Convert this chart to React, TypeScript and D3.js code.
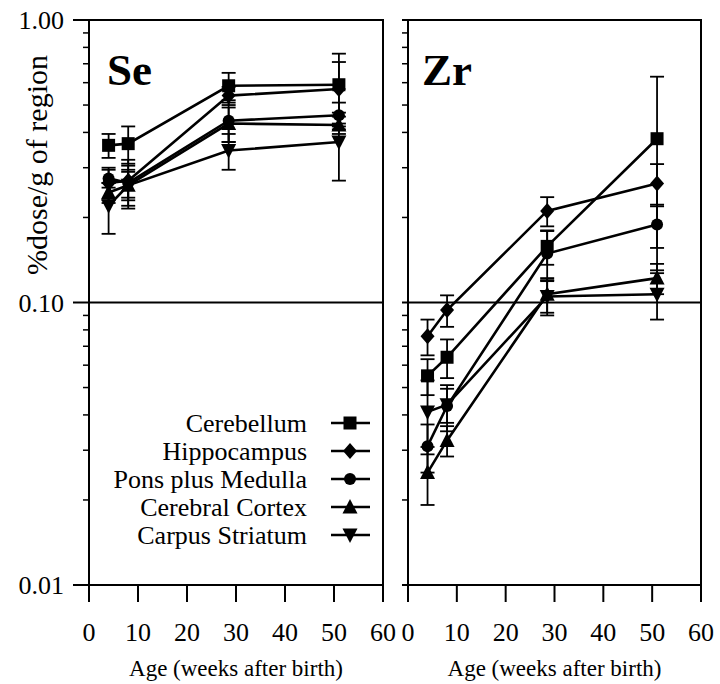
import React from "react";
import * as d3 from "d3";

const weeks = [4, 8, 28.5, 51];

const seriesNames = ["Cerebellum", "Hippocampus", "Pons plus Medulla", "Cerebral Cortex", "Carpus Striatum"];
const seriesSymbols = ["square", "diamond", "circle", "triangleUp", "triangleDown"];

// Se panel values and SE
const seCerebellum = [0.36, 0.365, 0.585, 0.59];
const seHippocampus = [0.265, 0.27, 0.54, 0.57];
const sePons = [0.275, 0.265, 0.44, 0.46];
const seCortex = [0.245, 0.26, 0.43, 0.425];
const seStriatum = [0.22, 0.26, 0.345, 0.37];
const seCerebellumErr = [0.035, 0.055, 0.065, 0.17];
const seHippocampusErr = [0.035, 0.05, 0.04, 0.14];
const seponsErr = [0.02, 0.03, 0.07, 0.05];
const seCortexErr = [0.02, 0.045, 0.06, 0.03];
const seStriatumErr = [0.045, 0.03, 0.05, 0.1];

// Zr panel values and SE
const zrCerebellum = [0.055, 0.064, 0.158, 0.38];
const zrHippocampus = [0.076, 0.094, 0.211, 0.264];
const zrPons = [0.031, 0.043, 0.149, 0.189];
const zrCortex = [0.025, 0.0325, 0.107, 0.122];
const zrStriatum = [0.041, 0.0435, 0.105, 0.107];
const zrCerebellumErr = [0.008, 0.01, 0.022, 0.25];
const zrHippocampusErr = [0.011, 0.012, 0.025, 0.045];
const zrPonsErr = [0.006, 0.008, 0.03, 0.033];
const zrCortexErr = [0.0058, 0.004, 0.015, 0.015];
const zrStriatumErr = [0.012, 0.006, 0.015, 0.02];

const xTicks = [0, 10, 20, 30, 40, 50, 60];
const yMajorTicks = [0.01, 0.1, 1];
const yTickLabels = ["0.01", "0.10", "1.00"];
const panelTitles = ["Se", "Zr"];
const xTitle = "Age (weeks after birth)";
const yTitle = "%dose/g of region";

const FONT = "'Liberation Serif', 'Times New Roman', serif";
const TOP = 20;
const BOTTOM = 585;
const panelsX = [
  [89, 383],
  [408, 701],
];

const panelData = [
  {
    values: [seCerebellum, seHippocampus, sePons, seCortex, seStriatum],
    errs: [seCerebellumErr, seHippocampusErr, seponsErr, seCortexErr, seStriatumErr],
  },
  {
    values: [zrCerebellum, zrHippocampus, zrPons, zrCortex, zrStriatum],
    errs: [zrCerebellumErr, zrHippocampusErr, zrPonsErr, zrCortexErr, zrStriatumErr],
  },
];

function Marker({ type, x, y }: { type: string; x: number; y: number }) {
  if (type === "square") return <rect x={x - 6.5} y={y - 6.5} width={13} height={13} fill="#000" />;
  if (type === "diamond")
    return <path d={`M${x},${y - 8}L${x + 7},${y}L${x},${y + 8}L${x - 7},${y}Z`} fill="#000" />;
  if (type === "circle") return <circle cx={x} cy={y} r={6} fill="#000" />;
  if (type === "triangleUp")
    return <path d={`M${x},${y - 8}L${x + 7.5},${y + 6.5}L${x - 7.5},${y + 6.5}Z`} fill="#000" />;
  return <path d={`M${x},${y + 8}L${x + 7.5},${y - 6.5}L${x - 7.5},${y - 6.5}Z`} fill="#000" />;
}

export default function App() {
  const y = d3.scaleLog().domain([0.01, 1]).range([BOTTOM, TOP]);
  const minor: number[] = [];
  [0.01, 0.1].forEach((d) => {
    for (let k = 2; k <= 9; k++) minor.push(k * d);
  });

  return (
    <svg width={720} height={684} style={{ display: "block", position: "absolute", left: 0, top: 0 }}>
      <rect width={720} height={684} fill="#fff" />
      {panelsX.map(([x0, x1], pi) => {
        const x = d3.scaleLinear().domain([0, 60]).range([x0, x1]);
        const pd = panelData[pi];
        const line = d3
          .line<number>()
          .x((_, i) => x(weeks[i]))
          .y((v) => y(v));
        return (
          <g key={pi}>
            <rect x={x0} y={TOP} width={x1 - x0} height={BOTTOM - TOP} fill="none" stroke="#000" strokeWidth={2} />
            <line x1={x0} x2={x1} y1={y(0.1)} y2={y(0.1)} stroke="#000" strokeWidth={2} />
            {minor.map((v) => (
              <line key={v} x1={x0 - 6} x2={x0} y1={y(v)} y2={y(v)} stroke="#000" strokeWidth={1.5} />
            ))}
            {yMajorTicks.map((v) => (
              <line key={v} x1={x0 - (pi === 0 ? 16 : 6)} x2={x0} y1={y(v)} y2={y(v)} stroke="#000" strokeWidth={2} />
            ))}
            {pi === 0 &&
              yMajorTicks.map((v, i) => (
                <text key={v} x={64} y={y(v) + 9} textAnchor="end" fontFamily={FONT} fontSize={26}>
                  {yTickLabels[i]}
                </text>
              ))}
            {xTicks.map((t) => (
              <g key={t}>
                <line x1={x(t)} x2={x(t)} y1={BOTTOM} y2={BOTTOM + 17} stroke="#000" strokeWidth={2} />
                <text x={x(t)} y={641} textAnchor="middle" fontFamily={FONT} fontSize={26}>
                  {t}
                </text>
              </g>
            ))}
            <text x={(x0 + x1) / 2} y={676} textAnchor="middle" fontFamily={FONT} fontSize={23}>
              {xTitle}
            </text>
            <text x={x0 + (pi === 0 ? 18 : 14)} y={85} fontFamily={FONT} fontSize={45} fontWeight="bold">
              {panelTitles[pi]}
            </text>
            {pd.values.map((vals, si) =>
              vals.map((v, i) => {
                const e = pd.errs[si][i];
                const cx = x(weeks[i]);
                const yt = y(v + e);
                const yb = y(Math.max(v - e, 0.0105));
                return (
                  <g key={`e${si}-${i}`} stroke="#000" strokeWidth={1.8}>
                    <line x1={cx} x2={cx} y1={yt} y2={yb} />
                    <line x1={cx - 7} x2={cx + 7} y1={yt} y2={yt} />
                    <line x1={cx - 7} x2={cx + 7} y1={yb} y2={yb} />
                  </g>
                );
              })
            )}
            {pd.values.map((vals, si) => (
              <path key={`l${si}`} d={line(vals) || ""} fill="none" stroke="#000" strokeWidth={2.6} />
            ))}
            {pd.values.map((vals, si) =>
              vals.map((v, i) => <Marker key={`m${si}-${i}`} type={seriesSymbols[si]} x={x(weeks[i])} y={y(v)} />)
            )}
          </g>
        );
      })}
      <text
        transform="translate(36,165) rotate(-90)"
        textAnchor="middle"
        dominantBaseline="central"
        fontFamily={FONT}
        fontSize={30}
      >
        {yTitle}
      </text>
      {seriesNames.map((name, i) => {
        const ly = 423 + i * 28;
        return (
          <g key={name}>
            <text x={307} y={ly + 9} textAnchor="end" fontFamily={FONT} fontSize={26}>
              {name}
            </text>
            <line x1={331} x2={370} y1={ly} y2={ly} stroke="#000" strokeWidth={2.6} />
            <Marker type={seriesSymbols[i]} x={350} y={ly} />
          </g>
        );
      })}
    </svg>
  );
}
